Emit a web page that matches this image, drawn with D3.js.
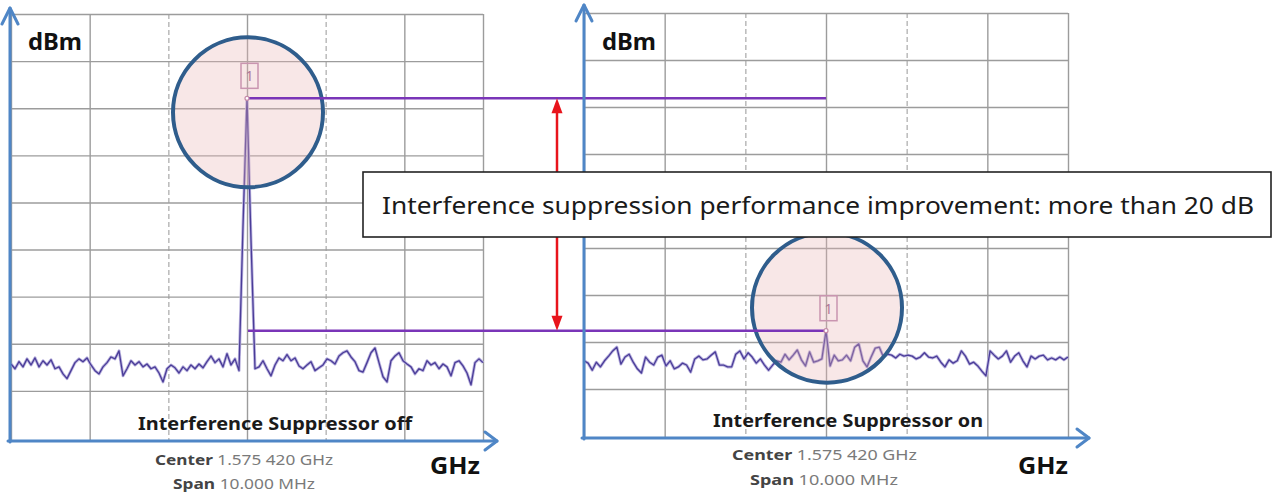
<!DOCTYPE html>
<html lang="en">
<head>
<meta charset="UTF-8">
<title>Interference Suppressor off / on</title>
<script src="https://d3js.org/d3.v7.min.js"></script>
<style>
  body { margin: 0; background: #fff; }
  svg { display: block; font-family: "Noto Sans", "Open Sans", sans-serif; }
</style>
</head>
<body>
<div id="chart"></div>
<script>
// trace levels in dBm, one value per sweep point (visible 6 divisions of the screen)
var offTrace = [
  -84.3, -85.3, -83.8, -84.9, -83.2, -84.5, -83.0, -84.9, -83.6, -84.5,
  -83.4, -85.3, -84.9, -86.4, -87.4, -85.7, -84.0, -83.2, -83.8, -83.0,
  -84.5, -85.7, -86.4, -84.9, -84.0, -82.8, -83.2, -81.5, -86.8, -85.3,
  -83.6, -84.5, -83.8, -84.9, -84.3, -85.3, -84.9, -86.2, -88.1, -85.3,
  -84.5, -85.1, -86.2, -84.9, -85.7, -84.5, -85.3, -84.3, -85.1, -83.8,
  -82.6, -84.0, -83.2, -84.9, -82.1, -84.5, -83.2, -85.7, -55.0, -27.9,
  -58.0, -85.3, -84.9, -83.6, -85.3, -86.8, -84.5, -83.0, -83.6, -82.3,
  -83.6, -83.0, -84.7, -85.3, -84.5, -83.8, -85.7, -85.1, -84.5, -83.2,
  -83.6, -84.3, -82.6, -81.9, -81.5, -82.8, -83.8, -85.7, -86.0, -84.0,
  -81.9, -80.9, -84.0, -87.0, -88.1, -83.6, -82.6, -81.9, -83.6, -84.3,
  -84.9, -86.4, -85.3, -85.7, -83.6, -84.5, -84.0, -85.3, -84.3, -84.9,
  -86.8, -84.0, -83.6, -84.7, -86.2, -88.7, -84.0, -83.2, -84.0
];
var onTrace = [
  -84.0, -84.5, -86.0, -84.3, -85.3, -84.0, -83.0, -81.9, -81.1, -84.7,
  -83.2, -82.6, -84.3, -85.7, -86.6, -83.2, -84.3, -84.9, -83.2, -82.8,
  -85.1, -84.0, -85.7, -85.3, -84.5, -84.9, -86.4, -83.6, -83.0, -83.8,
  -83.6, -82.8, -82.1, -84.9, -84.9, -85.3, -85.3, -82.6, -81.9, -83.6,
  -82.3, -83.2, -84.5, -83.6, -84.9, -86.0, -84.9, -84.0, -84.3, -82.6,
  -83.8, -82.8, -81.7, -83.8, -85.1, -82.1, -84.3, -84.0, -83.6, -77.6,
  -85.1, -82.8, -84.0, -83.8, -82.8, -84.0, -81.1, -80.4, -84.0, -85.3,
  -83.2, -81.3, -81.1, -83.2, -82.6, -82.8, -83.4, -82.6, -83.0, -82.8,
  -83.0, -83.6, -83.2, -82.3, -83.2, -83.4, -83.0, -84.3, -85.3, -83.8,
  -84.5, -84.0, -81.9, -83.0, -84.7, -84.3, -85.1, -86.2, -87.2, -81.9,
  -82.8, -83.6, -83.0, -81.9, -84.3, -83.0, -82.3, -84.0, -85.3, -83.0,
  -83.6, -83.0, -82.8, -83.8, -83.4, -83.8, -83.2, -83.8, -83.2
];

var panelTitles = ["Interference Suppressor off", "Interference Suppressor on"];
var levelTicks = [-10, -20, -30, -40, -50, -60, -70, -80, -90];   // dBm, 10 dB/div
var freqTicks = [-3, -2, -1, 0, 1, 2, 3];                          // MHz from center
var dashedTicks = [-1, 1];
var centerLabel = ["Center", "1.575 420 GHz"];
var spanLabel = ["Span", "10.000 MHz"];
var markerLabel = "1";
var noteText = "Interference suppression performance improvement: more than 20 dB";

var W = 1273, H = 498;
var axisBlue = "#4f86c6", markerPurple = "#7a35b8";

var svg = d3.select("#chart").append("svg")
    .attr("width", W).attr("height", H);

// screen layout of the two analyzer panels
var panels = [
  { trace: offTrace, title: panelTitles[0], x0: 11, x1: 483, y0: 14, y1: 438,
    axisX: 10, axisY: 441, xTip: 497, yTip: 8,
    titleX: 138, titleY: 430, titleW: 274, infoX: 155, infoW: 178, spanX: 173, spanW: 142,
    infoY: 465, spanY: 489, unitX: 430, ringDy: 14 },
  { trace: onTrace, title: panelTitles[1], x0: 584, x1: 1068, y0: 13, y1: 436,
    axisX: 584, axisY: 438, xTip: 1089, yTip: 5,
    titleX: 713, titleY: 427, titleW: 270, infoX: 732, infoW: 185, spanX: 750, spanW: 148,
    infoY: 460, spanY: 485, unitX: 1018, ringDy: -23 }
];

panels.forEach(function(p) {
  p.fx = d3.scaleLinear().domain([-3, 3]).range([p.x0, p.x1]);
  p.xs = d3.scalePoint().domain(d3.range(p.trace.length)).range([p.x0, p.x1]);
  p.y = d3.scaleLinear().domain([-10, -100]).range([p.y0, p.y1]);
  p.peak = d3.maxIndex(p.trace);
  p.px = p.xs(p.peak);
  p.py = p.y(p.trace[p.peak]);
});

// grid + trace
panels.forEach(function(p) {
  var g = svg.append("g");

  var vg = g.append("g")
      .attr("transform", "translate(0," + p.y0 + ")")
      .call(d3.axisBottom(p.fx).tickValues(freqTicks).tickSize(p.axisY - p.y0).tickFormat(""));
  vg.select(".domain").remove();
  vg.selectAll("line")
      .attr("stroke", "#9c9c9c").attr("stroke-width", 1.4)
      .attr("stroke-dasharray", function(d) { return dashedTicks.indexOf(d) >= 0 ? "5,3" : null; })
      .attr("stroke-opacity", function(d) { return dashedTicks.indexOf(d) >= 0 ? 0.75 : 1; });

  var hg = g.append("g")
      .attr("transform", "translate(" + p.x0 + ",0)")
      .call(d3.axisRight(p.y).tickValues(levelTicks).tickSize(p.x1 - p.x0).tickFormat(""));
  hg.select(".domain").remove();
  hg.selectAll("line").attr("stroke", "#9c9c9c").attr("stroke-width", 1.4);

  var line = d3.line()
      .x(function(d, i) { return p.xs(i); })
      .y(function(d) { return p.y(d); });

  g.append("path").datum(p.trace)
      .attr("d", line).attr("fill", "none")
      .attr("stroke", "#b9b2de").attr("stroke-width", 3).attr("stroke-linejoin", "round");
  g.append("path").datum(p.trace)
      .attr("d", line).attr("fill", "none")
      .attr("stroke", "#4a3c98").attr("stroke-width", 1.3).attr("stroke-linejoin", "round");
});

// highlight rings around the marker
panels.forEach(function(p) {
  svg.append("circle")
      .attr("cx", p.px + 1).attr("cy", p.py + p.ringDy).attr("r", 75)
      .attr("fill", "rgba(232,180,180,0.32)")
      .attr("stroke", "#2f5d8c").attr("stroke-width", 4);
});

// marker level lines (left peak and right peak carried across)
var L = panels[0], R = panels[1];
svg.append("line")
    .attr("x1", L.px + 1).attr("x2", R.px).attr("y1", L.py).attr("y2", L.py)
    .attr("stroke", markerPurple).attr("stroke-width", 2.5);
svg.append("line")
    .attr("x1", L.px + 1).attr("x2", R.px).attr("y1", R.py).attr("y2", R.py)
    .attr("stroke", markerPurple).attr("stroke-width", 2.5);

// marker flags
panels.forEach(function(p) {
  svg.append("circle").attr("cx", p.px).attr("cy", p.py).attr("r", 2)
      .attr("fill", "#fff").attr("stroke", "#c48aa8").attr("stroke-width", 1.2);
  svg.append("rect")
      .attr("x", p.px - 6).attr("y", p.py - 35).attr("width", 17).attr("height", 25)
      .attr("fill", "none").attr("stroke", "#c995b0").attr("stroke-width", 1.5);
  svg.append("text")
      .attr("x", p.px + 2.5).attr("y", p.py - 17)
      .attr("text-anchor", "middle").attr("font-size", 14)
      .attr("fill", "#b07a98").text(markerLabel);
});

// axes arrows
panels.forEach(function(p) {
  var a = svg.append("g").attr("stroke", axisBlue).attr("stroke-width", 3)
      .attr("fill", "none").attr("stroke-linecap", "round").attr("stroke-linejoin", "round");
  a.append("path").attr("d", d3.line()([[p.axisX, p.axisY + 1], [p.axisX, p.yTip]]));
  a.append("path").attr("d", d3.line()([[p.axisX - 8, p.yTip + 16], [p.axisX, p.yTip], [p.axisX + 8, p.yTip + 16]]));
  a.append("path").attr("d", d3.line()([[p.axisX - 2, p.axisY], [p.xTip, p.axisY]]));
  a.append("path").attr("d", d3.line()([[p.xTip - 12, p.axisY - 9], [p.xTip, p.axisY], [p.xTip - 12, p.axisY + 9]]));
});

// red level-difference arrow
var arrowX = 557;
var red = svg.append("g");
red.append("line").attr("x1", arrowX).attr("x2", arrowX)
    .attr("y1", L.py + 10).attr("y2", R.py - 10)
    .attr("stroke", "#e8141c").attr("stroke-width", 2.5);
red.append("path")
    .attr("d", d3.line()([[arrowX, L.py], [arrowX - 5.5, L.py + 15], [arrowX + 5.5, L.py + 15]]) + "Z")
    .attr("fill", "#e8141c");
red.append("path")
    .attr("d", d3.line()([[arrowX, R.py], [arrowX - 5.5, R.py - 15], [arrowX + 5.5, R.py - 15]]) + "Z")
    .attr("fill", "#e8141c");

// note box
svg.append("rect")
    .attr("x", 363).attr("y", 172).attr("width", 908).attr("height", 65)
    .attr("fill", "#fff").attr("stroke", "#222").attr("stroke-width", 1.6);
svg.append("text")
    .attr("x", 382).attr("y", 214)
    .attr("font-size", 24).attr("fill", "#1a1a1a")
    .attr("textLength", 872).attr("lengthAdjust", "spacingAndGlyphs")
    .text(noteText);

// panel labels
panels.forEach(function(p) {
  svg.append("text")
      .attr("x", p.axisX + 18).attr("y", 50)
      .attr("font-size", 24).attr("font-weight", "bold").attr("fill", "#111")
      .attr("textLength", 54).attr("lengthAdjust", "spacingAndGlyphs")
      .text("dBm");
  svg.append("text")
      .attr("x", p.unitX).attr("y", 474)
      .attr("font-size", 24).attr("font-weight", "bold").attr("fill", "#111")
      .attr("textLength", 50).attr("lengthAdjust", "spacingAndGlyphs")
      .text("GHz");
  svg.append("text")
      .attr("x", p.titleX).attr("y", p.titleY)
      .attr("font-size", 18).attr("font-weight", "bold").attr("fill", "#1a1a1a")
      .attr("textLength", p.titleW).attr("lengthAdjust", "spacingAndGlyphs")
      .text(p.title);

  var c = svg.append("text")
      .attr("x", p.infoX).attr("y", p.infoY).attr("font-size", 14)
      .attr("textLength", p.infoW).attr("lengthAdjust", "spacingAndGlyphs");
  c.append("tspan").attr("font-weight", "bold").attr("fill", "#444").text(centerLabel[0]);
  c.append("tspan").attr("fill", "#7a7a7a").text(" " + centerLabel[1]);

  var s = svg.append("text")
      .attr("x", p.spanX).attr("y", p.spanY).attr("font-size", 14)
      .attr("textLength", p.spanW).attr("lengthAdjust", "spacingAndGlyphs");
  s.append("tspan").attr("font-weight", "bold").attr("fill", "#444").text(spanLabel[0]);
  s.append("tspan").attr("fill", "#7a7a7a").text(" " + spanLabel[1]);
});
</script>
</body>
</html>
